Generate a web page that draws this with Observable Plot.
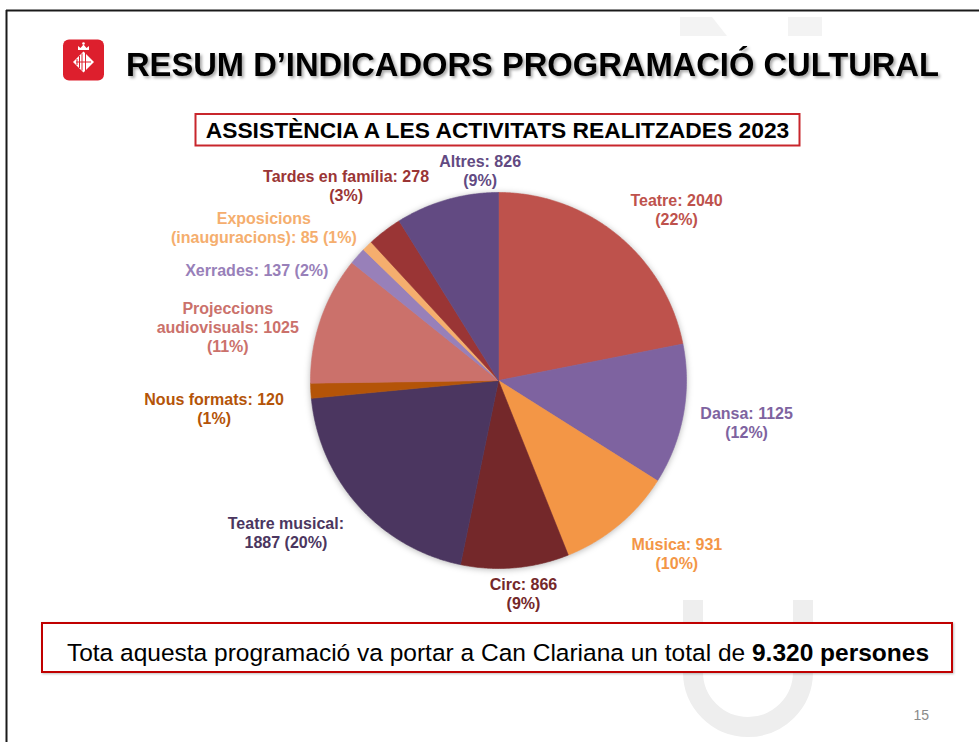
<!DOCTYPE html>
<html>
<head>
<meta charset="utf-8">
<script src="https://cdn.jsdelivr.net/npm/d3@7"></script>
<script src="https://cdn.jsdelivr.net/npm/@observablehq/plot@0.6"></script>
<style>
  html, body { margin: 0; padding: 0; background: #fff; }
  #slide { position: relative; width: 979px; height: 742px; overflow: hidden; background: #fff;
           font-family: "Liberation Sans", Arial, sans-serif; }
  #bg { position: absolute; left: 0; top: 0; }
  #chart { position: absolute; left: 0; top: 150px; }
  #chart g[aria-label="line"] { filter: drop-shadow(0px 1px 3px rgba(0,0,0,0.28)); }
</style>
</head>
<body>
<div id="slide">
  <svg id="bg" width="979" height="742" xmlns="http://www.w3.org/2000/svg">
    <defs>
      <filter id="tshadow" x="-5%" y="-20%" width="110%" height="150%">
        <feDropShadow dx="2" dy="2" stdDeviation="1.6" flood-color="#000" flood-opacity="0.35"/>
      </filter>
      <filter id="bshadow" x="-5%" y="-30%" width="110%" height="160%">
        <feDropShadow dx="1" dy="1" stdDeviation="1.2" flood-color="#000" flood-opacity="0.25"/>
      </filter>
      <linearGradient id="redline" x1="0" x2="1" y1="0" y2="0">
        <stop offset="0" stop-color="#D8606F"/>
        <stop offset="1" stop-color="#DB7585"/>
      </linearGradient>
    </defs>
    <!-- watermark -->
    <polygon points="680,17 712,17 727,36 680,36" fill="#f3f3f3"/>
    <rect x="788" y="17" width="34" height="19" fill="#f3f3f3"/>
    <path d="M693,600 L693,672 A55,55 0 0 0 803,672 L803,600" fill="none" stroke="#eeeeee" stroke-width="20"/>
    <!-- frame -->
    <line x1="6" y1="10.5" x2="979" y2="10.5" stroke="#1a1a1a" stroke-width="2"/>
    <line x1="6.5" y1="10" x2="6.5" y2="742" stroke="#1a1a1a" stroke-width="2"/>
    <!-- logo -->
    <rect x="63" y="39.5" width="41" height="41" rx="6" fill="#DD1F2D"/>
    <g fill="#fff">
      <path d="M78,50 L78,46 L80.5,48 L83.5,44.5 L86.5,48 L89,46 L89,50 Z"/>
      <circle cx="83.5" cy="43.5" r="1.3"/>
      <polygon points="83.5,51.5 94,62 83.5,72.5 73,62"/>
    </g>
    <g stroke="#DD1F2D" stroke-width="1">
      <line x1="77" y1="59" x2="77" y2="65"/>
      <line x1="79.5" y1="56" x2="79.5" y2="68"/>
      <line x1="82" y1="53.5" x2="82" y2="70.5"/>
      <line x1="85.5" y1="53" x2="85.5" y2="71"/>
      <line x1="76" y1="62" x2="91" y2="62"/>
    </g>
    <!-- title -->
    <text x="126" y="76" font-size="32.7" font-weight="bold" fill="#000" filter="url(#tshadow)"
          font-family="Liberation Sans, Arial, sans-serif">RESUM D’INDICADORS PROGRAMACIÓ CULTURAL</text>
    <!-- subtitle box -->
    <rect x="195.5" y="114" width="604" height="31.5" fill="#fff" stroke="#C8262C" stroke-width="2"/>
    <text x="497.5" y="137.5" text-anchor="middle" font-size="22.8" font-weight="bold" fill="#000"
          font-family="Liberation Sans, Arial, sans-serif">ASSISTÈNCIA A LES ACTIVITATS REALITZADES 2023</text>
    <!-- bottom box -->
    <rect x="42" y="623" width="910" height="49" fill="#fff" stroke="#C00000" stroke-width="2" filter="url(#bshadow)"/>
    <text x="498" y="661" text-anchor="middle" font-size="24.5" fill="#000"
          font-family="Liberation Sans, Arial, sans-serif">Tota aquesta programació va portar a Can Clariana un total de <tspan font-weight="bold">9.320 persones</tspan></text>
    <line x1="112" y1="687" x2="943" y2="687" stroke="url(#redline)" stroke-width="2.5"/>
    <text x="929" y="720" text-anchor="end" font-size="14" fill="#8a8a8a"
          font-family="Liberation Sans, Arial, sans-serif">15</text>
  </svg>
  <div id="chart"></div>
</div>
<script>
// ---- data ----
const categories = ["Teatre", "Dansa", "Música", "Circ", "Teatre musical", "Nous formats",
  "Projeccions audiovisuals", "Xerrades", "Exposicions (inauguracions)", "Tardes en família", "Altres"];
const values = [2040, 1125, 931, 866, 1887, 120, 1025, 137, 85, 278, 826];
const percentLabels = [22, 12, 10, 9, 20, 1, 11, 2, 1, 3, 9];

// ---- styling / layout ----
const sliceColors = ["#BE524C", "#7E63A0", "#F39646", "#74282A", "#4B3660", "#B45408",
  "#CB716B", "#9880B9", "#F5AE6E", "#9A3535", "#624A82"];
const labelTemplates = ["{n}: {v}\n({p}%)", "{n}: {v}\n({p}%)", "{n}: {v}\n({p}%)", "{n}: {v}\n({p}%)",
  "{n}:\n{v} ({p}%)", "{n}: {v}\n({p}%)", "{n}: {v}\n({p}%)", "{n}: {v} ({p}%)",
  "{n}: {v} ({p}%)", "{n}: {v}\n({p}%)", "{n}: {v}\n({p}%)"];
const nameBreak = [false, false, false, false, false, false, true, false, true, false, false];
const labelAngle = [46.1, 99.5, 134.1, 173.3, 234.4, 264.4, 281.2, 294.5, 303.1, 322.0, 355.0];
const labelRadius = [1.314, 1.338, 1.321, 1.138, 1.391, 1.52, 1.468, 1.413, 1.490, 1.317, 1.121];

const W = 979, H = 470, R = 188, CX = 498, CY = 230;

const total = d3.sum(values);
const slicePts = [];
let acc = 0;
categories.forEach((c, i) => {
  const a0 = acc / total * 2 * Math.PI;
  acc += values[i];
  const a1 = acc / total * 2 * Math.PI;
  slicePts.push({cat: c, x: 0, y: 0});
  const n = Math.max(2, Math.ceil((a1 - a0) / (Math.PI / 360)));
  for (let k = 0; k <= n; k++) {
    const a = a0 + (a1 - a0) * k / n;
    slicePts.push({cat: c, x: Math.sin(a), y: Math.cos(a)});
  }
  slicePts.push({cat: c, x: 0, y: 0});
});

const labels = categories.map((c, i) => {
  const name = nameBreak[i] ? c.replace(" ", "\n") : c;
  const text = labelTemplates[i].replace("{n}", name).replace("{v}", values[i]).replace("{p}", percentLabels[i]);
  const a = labelAngle[i] * Math.PI / 180;
  return {cat: c, text, x: labelRadius[i] * Math.sin(a), y: labelRadius[i] * Math.cos(a)};
});

const chart = Plot.plot({
  width: W,
  height: H,
  margin: 0,
  x: {domain: [-CX / R, (W - CX) / R], axis: null},
  y: {domain: [-(H - CY) / R, CY / R], axis: null},
  color: {type: "ordinal", domain: categories, range: sliceColors},
  style: {fontFamily: "'Liberation Sans', Arial, sans-serif", background: "transparent", overflow: "visible"},
  marks: [
    Plot.line(slicePts, {x: "x", y: "y", z: "cat", fill: "cat", stroke: "cat", strokeWidth: 0.6, curve: "linear"}),
    Plot.text(labels, {x: "x", y: "y", text: "text", fill: "cat", fontSize: 16, fontWeight: "bold",
      lineHeight: 1.2, textAnchor: "middle"})
  ]
});
document.getElementById("chart").appendChild(chart);
</script>
</body>
</html>
